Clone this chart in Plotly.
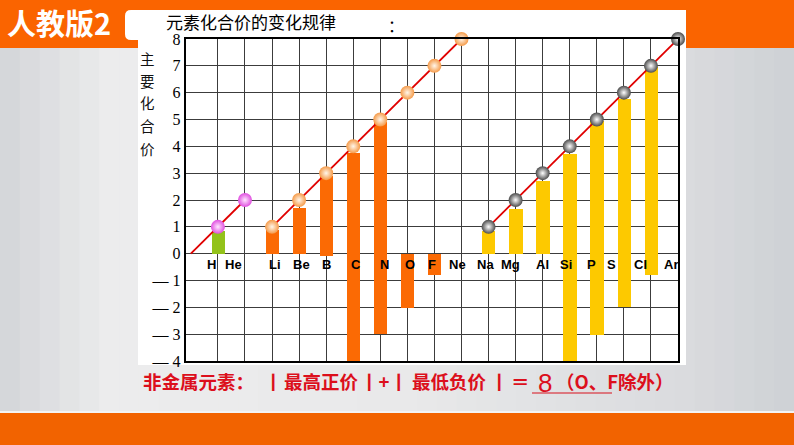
import plotly.graph_objects as go

W, H = 794, 445

# ---------------- data ----------------
elements = ["H", "He", "Li", "Be", "B", "C", "N", "O", "F", "Ne",
            "Na", "Mg", "Al", "Si", "P", "S", "Cl", "Ar"]
positions = list(range(1, 19))
max_valence = [1, 2, 1, 2, 3, 4, 5, 6, 7, 8, 1, 2, 3, 4, 5, 6, 7, 8]
bar_top = [0.85, None, 0.87, 1.7, 2.88, 3.74, 4.92, 0, 0, None,
           0.85, 1.68, 2.71, 3.73, 4.93, 5.76, 6.97, None]
bar_bottom = [0, None, 0, 0, -0.08, -4, -3, -2.03, -0.8, None,
              0, 0, 0, -4, -3.03, -2, -0.8, None]
period = [1, 1, 2, 2, 2, 2, 2, 2, 2, 2, 3, 3, 3, 3, 3, 3, 3, 3]
ytick_vals = [8, 7, 6, 5, 4, 3, 2, 1, 0, -1, -2, -3, -4]
ytick_text = ["8", "7", "6", "5", "4", "3", "2", "1", "0", "— 1", "— 2", "— 3", "— 4"]

# ---------------- style ----------------
bar_color = {1: "#93c21a", 2: "#fb6a04", 3: "#fdc900"}
mk_edge = {1: "#e04fe0", 2: "#f59a48", 3: "#4a4a4a"}
mk_center = {1: "#ffe6ff", 2: "#fff6ea", 3: "#ffffff"}
label_dx = [-6, -11, 3, 2, 0, 3, 4, 3, -2, -4, -3, -5, 0, -4, -5, -12, -10, -7]

def px(x):
    return x / W

def py(y):
    return 1 - y / H

fig = go.Figure()

# bars
bx, by, bb, bc = [], [], [], []
for p, t, b, per in zip(positions, bar_top, bar_bottom, period):
    if t is None:
        continue
    bx.append(p)
    by.append(t - b)
    bb.append(b)
    bc.append(bar_color[1] if p == 1 else bar_color[per])
fig.add_trace(go.Bar(x=bx, y=by, base=bb, width=0.49,
                     marker=dict(color=bc, line=dict(width=0)),
                     hoverinfo="skip", showlegend=False))

# red trend lines per period
for per in (1, 2, 3):
    xs = [positions[i] for i in range(18) if period[i] == per]
    ys = [max_valence[i] for i in range(18) if period[i] == per]
    if per == 1:
        xs = [0] + xs
        ys = [0] + ys
    fig.add_trace(go.Scatter(x=xs, y=ys, mode="lines",
                             line=dict(color="#e00000", width=1.8),
                             hoverinfo="skip", showlegend=False, cliponaxis=False))

# element labels
for i, el in enumerate(elements):
    fig.add_annotation(x=positions[i], y=-0.42, xref="x", yref="y", text="<b>%s</b>" % el,
                       showarrow=False, xshift=label_dx[i], borderpad=0,
                       font=dict(family="Liberation Sans", size=13, color="black"))

# markers
for per in (1, 2, 3):
    xs = [positions[i] for i in range(18) if period[i] == per]
    ys = [max_valence[i] for i in range(18) if period[i] == per]
    fig.add_trace(go.Scatter(x=xs, y=ys, mode="markers",
                             marker=dict(size=14, color=mk_edge[per],
                                         gradient=dict(type="radial", color=mk_center[per]),
                                         line=dict(width=0)),
                             hoverinfo="skip", showlegend=False, cliponaxis=False))

# ---------------- background shapes ----------------
shapes = []
stops = [(0, (211, 213, 216)), (110, (236, 236, 237)), (400, (233, 233, 234)),
         (686, (218, 219, 222)), (794, (206, 209, 213))]
def col_at(x):
    for (x0, c0), (x1, c1) in zip(stops[:-1], stops[1:]):
        if x0 <= x <= x1:
            t = (x - x0) / (x1 - x0)
            return "rgb(%d,%d,%d)" % tuple(round(a + (b - a) * t) for a, b in zip(c0, c1))
    return "rgb(206,209,213)"
n = 40
for k in range(n):
    x0 = W * k / n
    x1 = W * (k + 1) / n + 1
    shapes.append(dict(type="rect", xref="paper", yref="paper", x0=px(x0), x1=px(x1),
                       y0=py(413), y1=py(46), line=dict(width=0),
                       fillcolor=col_at((x0 + x1) / 2), layer="below"))
shapes.append(dict(type="rect", xref="paper", yref="paper", x0=0, x1=1, y0=py(48), y1=1,
                   line=dict(width=0), fillcolor="#fa6400", layer="below"))
shapes.append(dict(type="rect", xref="paper", yref="paper", x0=0, x1=1, y0=0, y1=py(413),
                   line=dict(width=0), fillcolor="#f26300", layer="below"))
shapes.append(dict(type="rect", xref="paper", yref="paper", x0=0, x1=1, y0=py(413), y1=py(411),
                   line=dict(width=0), fillcolor="#f3f3f3", layer="below"))
r = 6
path = "M %f,%f L %f,%f L %f,%f Q %f,%f %f,%f L %f,%f Q %f,%f %f,%f Z" % (
    px(686), py(10), px(686), py(40), px(125 + r), py(40),
    px(125), py(40), px(125), py(40 - r), px(125), py(10 + r), px(125), py(10), px(125 + r), py(10))
shapes.append(dict(type="path", xref="paper", yref="paper", path=path,
                   line=dict(width=0), fillcolor="white", layer="below"))
shapes.append(dict(type="rect", xref="paper", yref="paper", x0=px(138), x1=px(686),
                   y0=py(365), y1=py(38), line=dict(width=0), fillcolor="white", layer="below"))
shapes.append(dict(type="line", xref="paper", yref="paper", x0=px(532), x1=px(612),
                   y0=py(393), y1=py(393), line=dict(color="#d8101c", width=1.2)))

# ---------------- texts ----------------
cjk = "Noto Sans CJK SC"
def ann(text, x, y, size, color="black", xanchor="left", family=cjk):
    fig.add_annotation(x=px(x), y=py(y), xref="paper", yref="paper", text=text,
                       showarrow=False, xanchor=xanchor, yanchor="middle", borderpad=0,
                       font=dict(family=family, size=size, color=color))

# header
ann("<b>人教版2</b>", 6, 22, 29, "white")
# chart title
ann("元素化合价的变化规律", 165, 21.5, 17)
ann("：", 396, 25, 16, xanchor="center")
# y title (vertical)
for ch, yy in zip("主要化合价", [58, 80.5, 103, 125.5, 148]):
    ann(ch, 147, yy, 14.5, "#111", xanchor="center")
# bottom statement
red = "#dc0f1c"
ann("<b>非金属元素：</b>", 142, 381, 18.5, red)
ann("<b>丨</b>", 273, 381, 18.5, red, "center")
ann("<b>最高正价</b>", 283, 381, 18.5, red)
ann("<b>丨+丨</b>", 384, 381, 18.5, red, "center")
ann("<b>最低负价</b>", 411, 381, 18.5, red)
ann("<b>丨</b>", 500, 381, 18.5, red, "center")
ann("<b>＝</b>", 520, 381, 18.5, red, "center")
ann("8", 545, 383, 26, red, "center", "Liberation Sans")
ann("<b>（O、F除外）</b>", 555, 381, 18.5, red)

fig.update_layout(
    width=W, height=H, autosize=False,
    margin=dict(l=0, r=0, t=0, b=0, pad=0, autoexpand=False),
    paper_bgcolor="#dcdde0", plot_bgcolor="rgba(0,0,0,0)",
    shapes=shapes, showlegend=False, bargap=0,
    xaxis=dict(domain=[px(185.7), px(678)], range=[-0.19, 18], automargin=False,
               tickvals=list(range(1, 18)), showticklabels=False, ticks="",
               showgrid=True, gridcolor="#3c3c3c", gridwidth=1, zeroline=False,
               showline=True, linecolor="black", linewidth=2, mirror=True, fixedrange=True),
    yaxis=dict(domain=[py(361), py(39)], range=[-4, 8], automargin=False,
               tickvals=ytick_vals, ticktext=ytick_text, ticks="",
               tickfont=dict(family="Liberation Serif", size=16, color="black"),
               showgrid=True, gridcolor="#3c3c3c", gridwidth=1, zeroline=False,
               showline=True, linecolor="black", linewidth=2, mirror=True, fixedrange=True),
)

fig.write_html("out.html", config={"displayModeBar": False},
               post_script="document.body.style.margin='0';document.body.style.padding='0';"
                           "document.body.style.overflow='hidden';")
